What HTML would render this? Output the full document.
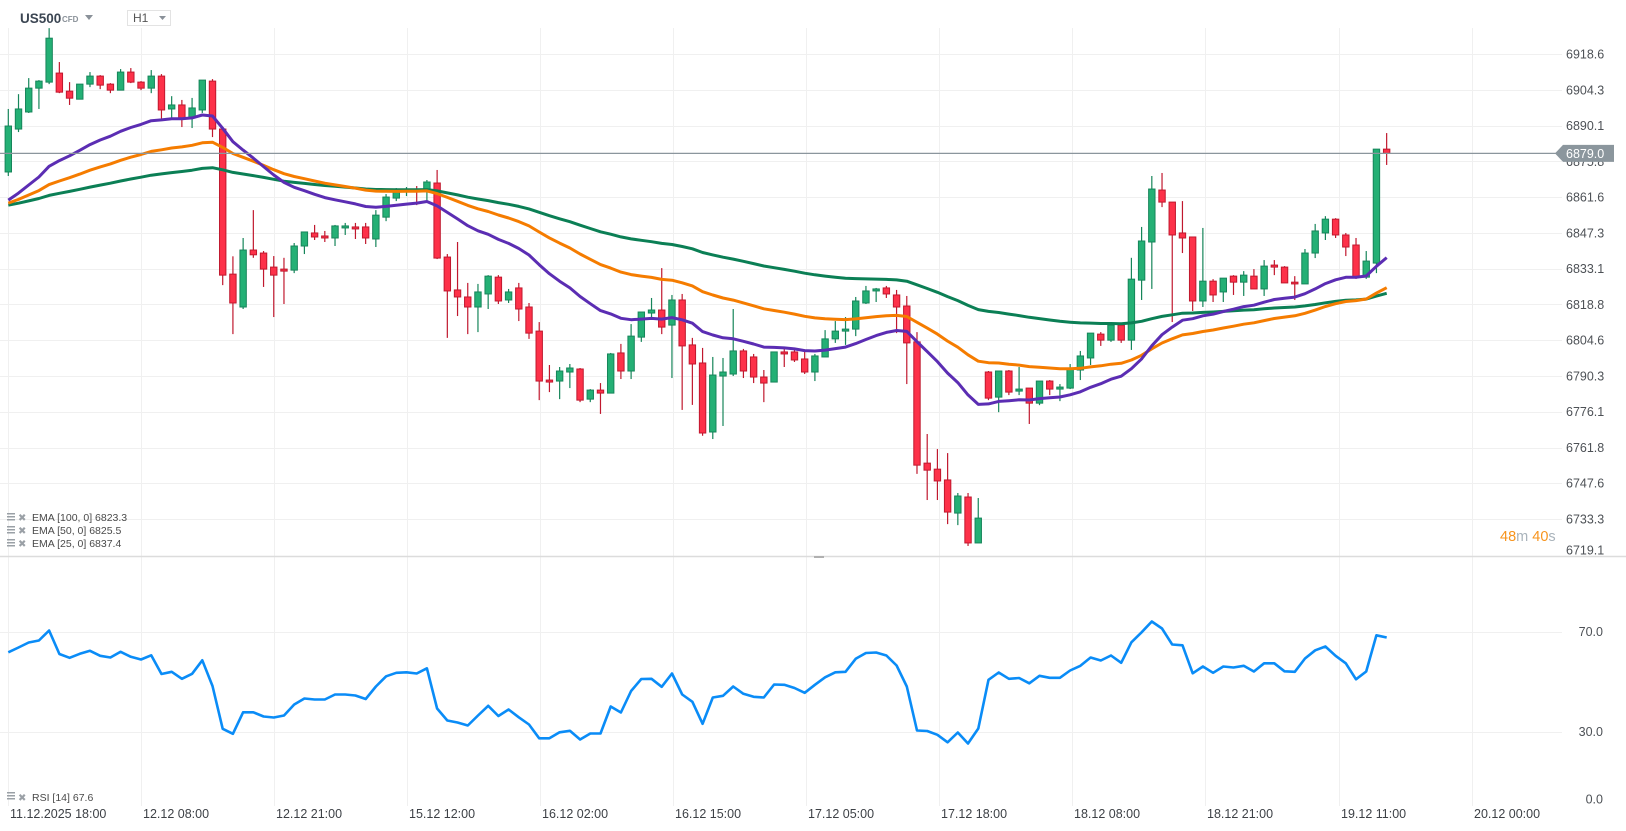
<!DOCTYPE html>
<html><head><meta charset="utf-8">
<style>
html,body{margin:0;padding:0;background:#fff;width:1626px;height:831px;overflow:hidden;font-family:"Liberation Sans",Arial,sans-serif}
svg{display:block}
text{font-family:"Liberation Sans",Arial,sans-serif}
</style></head>
<body>
<svg id="chart" width="1626" height="831" viewBox="0 0 1626 831">
  <g id="grid"></g>
  <g id="candles"></g>
  <g id="emas"></g>
  <g id="rsi"></g>
  <g id="axes"></g>
  <g>
    <text x="20" y="23" font-size="13.5" font-weight="bold" fill="#3b4552">US500</text>
    <text x="62" y="22" font-size="8" font-weight="bold" fill="#8a9199">CFD</text>
    <path d="M85 15 L93 15 L89 20 Z" fill="#8a9199"/>
    <rect x="127.5" y="10.5" width="43" height="15" fill="#fff" stroke="#e3e3e3"/>
    <text x="133" y="22" font-size="12" fill="#555">H1</text>
    <path d="M159 16 L166 16 L162.5 20 Z" fill="#8a9199"/>
  </g>
  <g font-size="10.5" fill="#4a4a4a">
    <g>
      <rect x="7" y="513" width="8" height="1.5" fill="#9aa0a6"/><rect x="7" y="516" width="8" height="1.5" fill="#9aa0a6"/><rect x="7" y="519" width="8" height="1.5" fill="#9aa0a6"/>
      <text x="18" y="521" font-size="10" fill="#9aa0a6">✖</text>
      <text x="32" y="521">EMA [100,  0] 6823.3</text>
    </g>
    <g>
      <rect x="7" y="526" width="8" height="1.5" fill="#9aa0a6"/><rect x="7" y="529" width="8" height="1.5" fill="#9aa0a6"/><rect x="7" y="532" width="8" height="1.5" fill="#9aa0a6"/>
      <text x="18" y="534" font-size="10" fill="#9aa0a6">✖</text>
      <text x="32" y="534">EMA [50,  0] 6825.5</text>
    </g>
    <g>
      <rect x="7" y="539" width="8" height="1.5" fill="#9aa0a6"/><rect x="7" y="542" width="8" height="1.5" fill="#9aa0a6"/><rect x="7" y="545" width="8" height="1.5" fill="#9aa0a6"/>
      <text x="18" y="547" font-size="10" fill="#9aa0a6">✖</text>
      <text x="32" y="547">EMA [25,  0] 6837.4</text>
    </g>
  </g>
  <g font-size="10.5" fill="#4a4a4a">
    <rect x="7" y="792" width="8" height="1.5" fill="#9aa0a6"/><rect x="7" y="795" width="8" height="1.5" fill="#9aa0a6"/><rect x="7" y="798" width="8" height="1.5" fill="#9aa0a6"/>
    <text x="18" y="801" font-size="10" fill="#9aa0a6">✖</text>
    <text x="32" y="801">RSI [14] 67.6</text>
  </g>
  <text x="1500" y="541" font-size="14.5"><tspan fill="#f7941d">48</tspan><tspan fill="#a9b3bb">m </tspan><tspan fill="#f7941d">40</tspan><tspan fill="#a9b3bb">s</tspan></text>
</svg>
<script>
// ---- data ----
const opens=[6871.6,6888.7,6895.5,6905.0,6907.4,6911.0,6903.8,6900.6,6906.6,6909.8,6906.6,6904.2,6911.4,6907.4,6905.0,6909.8,6896.7,6898.3,6893.1,6896.3,6907.8,6888.7,6830.9,6817.8,6840.5,6839.3,6833.7,6832.9,6832.5,6842.1,6847.3,6846.1,6845.3,6849.3,6849.7,6849.7,6844.9,6853.6,6861.2,6864.0,6864.4,6864.4,6867.2,6837.7,6824.6,6821.8,6817.8,6823.0,6829.7,6820.6,6825.4,6817.8,6808.2,6788.7,6788.3,6791.9,6793.1,6781.1,6784.7,6783.5,6799.5,6792.3,6805.8,6815.4,6816.6,6810.6,6820.6,6802.7,6795.5,6768.0,6790.3,6791.1,6800.3,6797.9,6789.9,6787.9,6799.9,6799.9,6797.1,6791.9,6797.9,6805.1,6808.2,6809.0,6819.4,6824.2,6825.4,6822.6,6818.2,6803.9,6755.6,6753.2,6748.9,6735.7,6742.1,6723.8,6791.9,6781.9,6792.3,6784.3,6785.5,6779.5,6788.3,6785.1,6785.5,6792.7,6797.5,6807.0,6804.6,6810.6,6804.6,6828.5,6843.7,6864.4,6859.6,6847.3,6845.7,6820.2,6828.1,6823.8,6830.1,6827.7,6830.1,6825.0,6834.5,6833.7,6827.7,6827.0,6839.3,6847.3,6852.8,6846.5,6842.5,6829.7,6835.3,6880.7];
const highs=[6896.7,6902.6,6909.0,6908.2,6928.9,6915.4,6907.4,6906.6,6911.4,6910.2,6907.0,6912.6,6913.0,6907.8,6912.2,6910.6,6901.8,6900.3,6901.1,6908.2,6908.6,6888.7,6838.0,6845.3,6856.4,6840.1,6838.1,6837.4,6843.3,6847.7,6850.5,6848.1,6850.5,6851.3,6851.3,6851.3,6856.4,6862.8,6865.2,6865.6,6866.0,6868.4,6872.4,6838.9,6843.7,6827.4,6827.0,6830.5,6830.5,6825.0,6827.4,6819.4,6811.8,6794.7,6793.9,6795.1,6793.5,6785.1,6787.5,6799.5,6803.1,6811.0,6815.8,6821.4,6833.3,6822.6,6823.0,6805.5,6801.5,6797.9,6797.5,6817.0,6801.1,6799.1,6792.7,6799.9,6801.5,6801.5,6800.3,6799.1,6808.6,6812.2,6813.8,6821.8,6826.2,6825.4,6826.2,6824.6,6822.2,6807.8,6767.2,6761.2,6759.6,6743.7,6743.7,6741.7,6792.3,6792.3,6792.7,6793.9,6785.5,6788.3,6788.7,6787.1,6795.1,6800.3,6807.4,6807.8,6810.6,6810.6,6837.4,6849.7,6870.0,6871.2,6859.6,6860.0,6845.7,6849.3,6828.9,6829.3,6830.5,6832.1,6832.9,6836.5,6836.5,6834.1,6830.1,6840.9,6850.9,6854.0,6853.2,6847.3,6845.3,6840.1,6880.7,6887.1];
const lows=[6870.0,6887.5,6895.1,6896.7,6906.6,6903.0,6898.3,6900.6,6905.4,6904.6,6903.0,6904.2,6907.0,6904.2,6903.0,6892.7,6892.7,6889.5,6889.1,6895.1,6885.5,6826.5,6807.0,6817.0,6837.4,6825.8,6813.8,6819.0,6831.3,6838.9,6844.5,6843.7,6842.1,6846.5,6844.9,6842.9,6841.7,6852.0,6860.0,6862.0,6858.4,6860.0,6836.9,6805.5,6814.2,6807.0,6807.8,6817.0,6819.0,6819.4,6812.2,6805.1,6780.7,6783.9,6781.1,6785.5,6779.9,6779.9,6775.2,6783.5,6789.1,6789.1,6803.9,6813.8,6807.0,6789.5,6776.8,6778.8,6766.5,6765.2,6770.4,6790.3,6789.5,6787.5,6779.9,6787.9,6793.9,6795.9,6791.1,6788.3,6797.9,6803.5,6802.7,6806.2,6819.0,6819.8,6821.4,6807.4,6787.1,6751.3,6740.9,6740.9,6731.3,6730.9,6722.6,6723.8,6780.7,6775.9,6782.7,6782.7,6771.2,6778.7,6782.7,6780.3,6785.1,6788.7,6794.7,6802.3,6803.9,6803.5,6800.7,6820.6,6825.0,6857.6,6811.8,6839.3,6816.2,6817.8,6819.8,6819.8,6822.6,6822.2,6825.0,6822.2,6830.5,6827.4,6820.6,6827.0,6837.3,6844.5,6845.3,6838.1,6829.0,6829.0,6831.3,6874.4];
const closes=[6889.9,6896.7,6905.0,6907.8,6924.9,6903.4,6901.0,6906.6,6909.8,6906.2,6904.2,6911.4,6907.4,6905.0,6909.8,6896.3,6898.3,6893.1,6897.1,6908.2,6888.7,6830.5,6819.4,6840.5,6838.6,6832.9,6830.5,6832.1,6842.1,6847.7,6845.7,6845.3,6850.1,6850.1,6848.9,6845.3,6854.4,6861.6,6863.6,6864.4,6864.0,6867.6,6837.3,6824.2,6821.8,6817.8,6823.8,6830.1,6820.2,6823.8,6817.0,6807.4,6788.3,6787.9,6792.3,6793.5,6780.7,6784.7,6783.5,6799.1,6792.3,6806.2,6815.8,6816.6,6809.8,6820.6,6802.3,6795.1,6767.6,6790.7,6791.9,6800.3,6792.3,6789.9,6787.5,6799.9,6799.1,6796.7,6791.9,6798.3,6805.1,6808.2,6809.0,6820.2,6824.2,6825.0,6823.0,6817.8,6803.5,6754.8,6752.8,6748.5,6736.1,6742.5,6723.8,6733.7,6781.5,6792.3,6783.9,6785.1,6779.5,6788.3,6785.1,6785.9,6793.5,6798.3,6807.4,6804.6,6810.6,6804.6,6828.9,6844.1,6864.8,6859.6,6846.5,6845.3,6820.2,6828.1,6822.6,6829.3,6827.7,6830.5,6825.0,6834.1,6833.7,6827.4,6827.0,6839.3,6848.1,6852.8,6846.5,6841.7,6829.7,6836.1,6880.7,6879.0];
const rsiValues=[61.7,63.6,65.6,66.4,70.4,61.0,59.5,61.1,62.3,60.3,59.6,61.9,59.9,58.8,60.5,53.0,53.9,51.1,53.1,58.5,48.2,31.1,29.1,37.7,37.7,36.0,35.6,36.4,40.8,43.2,42.8,42.8,44.8,44.8,44.4,43.0,48.0,52.1,53.5,53.7,53.2,55.3,39.2,34.4,33.6,32.4,36.4,40.3,36.2,38.8,35.7,32.8,27.3,27.3,29.7,30.3,26.8,29.2,29.2,40.0,37.6,46.2,51.0,51.1,47.9,53.2,44.8,41.9,
33.1,43.6,44.3,48.0,45.1,43.9,43.6,48.8,48.7,47.4,45.5,48.7,51.7,53.7,53.9,59.1,61.4,61.6,60.4,56.4,48.0,30.4,30.2,28.7,25.7,29.6,25.2,31.2,50.7,53.6,51.1,51.4,49.3,52.3,51.5,51.5,54.4,56.3,59.6,58.4,60.4,57.5,65.7,69.7,74.0,71.2,64.8,64.5,53.3,56.0,53.5,56.0,55.6,56.3,54.0,57.3,57.3,54.1,53.9,59.2,62.5,64.0,60.3,57.3,50.9,54.0,68.5,67.6];
const emaPeriods=[100,50,25];
const emaSeeds=[6858.4,6859.2,6860.4];
const emaColors=['#0b7f55','#f57c00','#5b2db3'];
const priceTicks=[6918.6,6904.3,6890.1,6875.8,6861.6,6847.3,6833.1,6818.8,6804.6,6790.3,6776.1,6761.8,6747.6,6733.3,6719.1];
const rsiTicks=[70,30,0];
const timeLabels=["11.12.2025 18:00","12.12 08:00","12.12 21:00","15.12 12:00","16.12 02:00","16.12 15:00","17.12 05:00","17.12 18:00","18.12 08:00","18.12 21:00","19.12 11:00","20.12 00:00"];
const lastPrice=6879.0;

// ---- scales ----
const NS='http://www.w3.org/2000/svg';
const xOf=i=>8.3+10.21*i;
const yP=p=>54+(6918.6-p)*2.51;
const yR=v=>731.5-(v-30)*2.5;
function mk(tag,attrs,parent){const e=document.createElementNS(NS,tag);for(const k in attrs)e.setAttribute(k,attrs[k]);parent.appendChild(e);return e;}

const grid=document.getElementById('grid');
const axes=document.getElementById('axes');
priceTicks.forEach((p,k)=>{
  const y=Math.round(yP(p))+0.5;
  if(y<548){
    const l=mk('line',{x1:0,x2:1562,y1:y,y2:y,stroke:'#f0f0f0','stroke-width':1},grid);
    
    
  }
  const t=mk('text',{x:1566,y:Math.min(yP(p),550)+4.5,'font-size':12.5,fill:'#4d5156'},axes);
  t.textContent=p.toFixed(1);
  
  
});
timeLabels.forEach((s,k)=>{
  const x=Math.round(7.6+133.1*k)+0.5;
  const l=mk('line',{x1:x,x2:x,y1:28,y2:806,stroke:'#f0f0f0','stroke-width':1},grid);
  
  
  const t=mk('text',{x:x+1.5,y:818,'font-size':12.5,fill:'#3d4146'},axes);
  t.textContent=s;
  
  
});
rsiTicks.forEach(v=>{
  const y=Math.round(yR(v))+0.5;
  if(v>0){
    const l=mk('line',{x1:0,x2:1562,y1:y,y2:y,stroke:'#f0f0f0','stroke-width':1},grid);
    
    
  }
  const t=mk('text',{x:1603,y:(v>0?yR(v):799)+4.5,'font-size':12.5,fill:'#4d5156','text-anchor':'end'},axes);
  t.textContent=v.toFixed(1);
  
  
});
const dv=mk('line',{x1:0,x2:1626,y1:556.5,y2:556.5,stroke:'#dcdcdc','stroke-width':1.5},grid);


const hd=mk('rect',{x:814,y:556,width:10,height:2,fill:'#b0b0b0'},grid);



const cg=document.getElementById('candles');
for(let i=0;i<closes.length;i++){
  const up=closes[i]>=opens[i];
  const x=xOf(i);
  const g=mk('g',{},cg);
  
  
  const stroke=up?'#16855a':'#c0182e', fill=up?'#24b075':'#fd3149';
  mk('line',{x1:x,x2:x,y1:yP(highs[i]),y2:yP(lows[i]),stroke:stroke,'stroke-width':1.2},g);
  const top=yP(Math.max(opens[i],closes[i])), bot=yP(Math.min(opens[i],closes[i]));
  mk('rect',{x:x-3.2,y:top,width:6.4,height:Math.max(bot-top,1.5),fill:fill,stroke:stroke,'stroke-width':1},g);
}

const eg=document.getElementById('emas');
emaPeriods.forEach((n,k)=>{
  const a=2/(n+1);let e=emaSeeds[k];const pts=[];
  for(let i=0;i<closes.length;i++){ if(i>0) e=e+a*(closes[i]-e); pts.push(xOf(i).toFixed(1)+','+yP(e).toFixed(1)); }
  const pl=mk('polyline',{points:pts.join(' '),fill:'none',stroke:emaColors[k],'stroke-width':3,'stroke-linejoin':'round'},eg);
  
  
});

const pl=mk('line',{x1:0,x2:1556,y1:yP(lastPrice),y2:yP(lastPrice),stroke:'#8b969d','stroke-width':1.2},axes);


const yy=yP(lastPrice);
const tag=mk('path',{d:`M1555 ${yy} L1563 ${yy-8.5} L1614 ${yy-8.5} L1614 ${yy+8.5} L1563 ${yy+8.5} Z`,fill:'#8b969d'},axes);


const tt=mk('text',{x:1566,y:yy+4.5,'font-size':12.5,fill:'#fff'},axes);
tt.textContent=lastPrice.toFixed(1);



const rg=document.getElementById('rsi');
const rp=rsiValues.map((v,i)=>xOf(i).toFixed(1)+','+yR(v).toFixed(1)).join(' ');
const rl=mk('polyline',{points:rp,fill:'none',stroke:'#0a8cf7','stroke-width':2.6,'stroke-linejoin':'round'},rg);


</script>
</body></html>
